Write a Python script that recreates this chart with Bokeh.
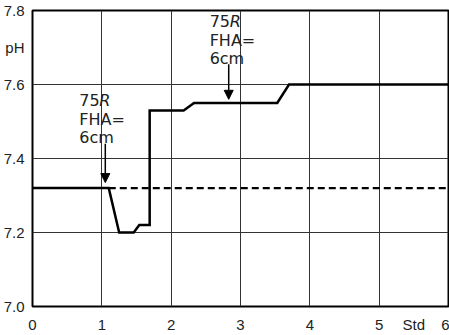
from bokeh.plotting import figure
from bokeh.models import ColumnDataSource, FixedTicker, Arrow, NormalHead
from bokeh.core.properties import value
from bokeh.embed import file_html
from bokeh.resources import INLINE

# pH course over time (hours)
time_h = [0.0, 1.10, 1.25, 1.46, 1.54, 1.69, 1.69, 2.18, 2.33, 3.53, 3.70, 6.0]
ph_treated = [7.32, 7.32, 7.20, 7.20, 7.22, 7.22, 7.53, 7.53, 7.55, 7.55, 7.60, 7.60]

# reference level continued as dashed line
time_ref = [1.10, 6.0]
ph_ref = [7.32, 7.32]

# irradiation marks: arrow position and annotation anchor
mark_x = [1.05, 2.83]
mark_y_start = [7.44, 7.655]
mark_y_end = [7.335, 7.56]
note_x = [0.675, 2.555]
note_y = [7.557, 7.771]

x_ticks = [0, 1, 2, 3, 4, 5, 5.5, 6]
x_tick_labels = {5.5: "Std"}
y_ticks = [7.0, 7.2, 7.4, 7.6, 7.7, 7.8]
y_tick_labels = {7.0: "7.0", 7.2: "7.2", 7.4: "7.4", 7.6: "7.6", 7.7: "pH", 7.8: "7.8"}

FONT = "Liberation Sans"

p = figure(width=449, height=335, output_backend="svg", toolbar_location=None,
           x_range=(0, 6), y_range=(7.0, 7.8),
           min_border_left=30, min_border_right=1, min_border_top=10, min_border_bottom=22)
p.background_fill_color = "white"
p.border_fill_color = "white"
p.outline_line_color = "black"
p.outline_line_width = 2

# axes
p.xaxis.ticker = FixedTicker(ticks=x_ticks)
p.xaxis.major_label_overrides = x_tick_labels
p.yaxis.ticker = FixedTicker(ticks=y_ticks)
p.yaxis.major_label_overrides = y_tick_labels
for ax in (p.xaxis, p.yaxis):
    ax.axis_line_color = None
    ax.major_tick_line_color = None
    ax.minor_tick_line_color = None
    ax.major_label_text_font = FONT
    ax.major_label_text_font_size = "15px"
    ax.major_label_text_color = "#222222"
p.xaxis.major_label_standoff = 3
p.yaxis.major_label_standoff = 2

# grid
p.xgrid.ticker = FixedTicker(ticks=[1, 2, 3, 4, 5])
p.ygrid.ticker = FixedTicker(ticks=[7.2, 7.4, 7.6])
for g in (p.xgrid, p.ygrid):
    g.grid_line_color = "#333333"
    g.grid_line_width = 1

# curves
p.line(time_h, ph_treated, line_color="black", line_width=2.5, line_join="miter")
p.line(time_ref, ph_ref, line_color="black", line_width=2.2, line_dash="7 4")

# arrows
arrows = ColumnDataSource(dict(x=mark_x, y0=mark_y_start, y1=mark_y_end))
p.add_layout(Arrow(x_start="x", y_start="y0", x_end="x", y_end="y1", source=arrows,
                   line_color="black", line_width=1.5,
                   end=NormalHead(size=9, fill_color="black", line_color="black", line_width=1)))

# annotation texts
note_src = ColumnDataSource(dict(x=note_x, y=note_y))
common = dict(source=note_src, text_font=value("DejaVu Sans"), text_font_size="16px",
              text_color="#222222", text_align="left", text_baseline="middle")
p.text(x="x", y="y", text=value("75"), **common)
p.text(x="x", y="y", text=value("R"), x_offset=20, text_font_style="italic", **common)
p.text(x="x", y="y", text=value("FHA="), y_offset=19, **common)
p.text(x="x", y="y", text=value("6cm"), y_offset=37, **common)

open("out.html", "w").write(file_html(p, INLINE))
